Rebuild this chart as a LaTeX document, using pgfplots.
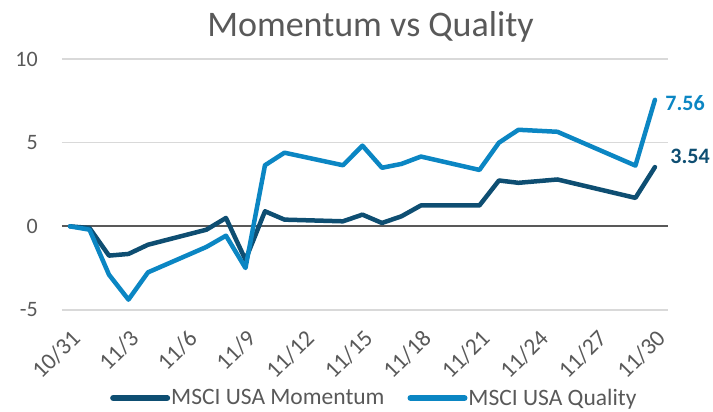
\documentclass[border=0pt]{standalone}
\usepackage{fontspec}
\setmainfont{Carlito}
\usepackage{pgfplots}
\pgfplotsset{compat=1.18}
\definecolor{mom}{HTML}{0E4E72}
\definecolor{qual}{HTML}{0B86C3}
\definecolor{txt}{HTML}{595959}
\definecolor{gridc}{HTML}{D9D9D9}
\begin{document}
\begin{tikzpicture}
\path[use as bounding box] (-62pt,-102pt) rectangle (651pt,310pt);
\begin{axis}[
  at={(0pt,0pt)}, anchor=south west,
  scale only axis, width=606pt, height=251pt,
  xmin=-0.41, xmax=30.67, ymin=-5, ymax=10,
  ytick={-5,0,5,10},
  xtick={0,3,...,30},
  xticklabels={10/31,11/3,11/6,11/9,11/12,11/15,11/18,11/21,11/24,11/27,11/30},
  x tick label style={xshift=0pt, yshift=-18pt, rotate=45, anchor=north east, font=\fontsize{23.5}{23.5}\selectfont, text=txt, inner sep=0pt},
  y tick label style={font=\fontsize{22}{22}\selectfont, text=txt, inner sep=0pt, xshift=-24pt},
  axis line style={draw=none},
  major tick length=0pt,
  ymajorgrids, grid style={gridc, line width=1.5pt},
  /pgf/number format/assume math mode=true,
  clip=false,
  legend columns=2,
  legend style={at={(axis description cs:0.0742,-0.3506)}, anchor=west, draw=none, fill=none,
    font=\fontsize{23.5}{23.5}\selectfont, text=txt, /tikz/every even column/.append style={column sep=22pt},
    nodes={inner sep=1pt}},
  legend image code/.code={\draw[#1, line width=6pt, line cap=round] (3pt,0pt) -- (57pt,0pt);},
  every axis plot/.append style={line width=4.5pt, line join=round, line cap=round},
]
\addplot[txt, line width=2pt, line cap=butt, forget plot] coordinates {(-0.41,0) (30.67,0)};
\addplot[mom] coordinates {
(0,0) (1,-0.1) (2,-1.75) (3,-1.65) (4,-1.1) (7,-0.2) (8,0.5) (9,-2.0) (10,0.9) (11,0.4)
(14,0.3) (15,0.7) (16,0.2) (17,0.6) (18,1.25) (21,1.25) (22,2.74) (23,2.6) (25,2.8) (29,1.7) (30,3.54)};
\addlegendentry{MSCI USA Momentum}
\addplot[qual] coordinates {
(0,0) (1,-0.2) (2,-2.89) (3,-4.38) (4,-2.75) (7,-1.23) (8,-0.56) (9,-2.49) (10,3.65) (11,4.4)
(14,3.65) (15,4.82) (16,3.5) (17,3.73) (18,4.17) (21,3.37) (22,5.0) (23,5.77) (25,5.65) (29,3.63) (30,7.56)};
\addlegendentry{MSCI USA Quality}
\node[anchor=west, font=\fontsize{22}{22}\selectfont\bfseries, text=qual, xshift=7pt, yshift=-3pt] at (axis cs:30,7.56) {7.56};
\node[anchor=west, font=\fontsize{22}{22}\selectfont\bfseries, text=mom, xshift=12pt, yshift=11pt] at (axis cs:30,3.54) {3.54};
\end{axis}
\node[anchor=base, font=\fontsize{36}{36}\selectfont, text=txt] at (308.5pt,273pt) {Momentum vs Quality};
\end{tikzpicture}
\end{document}
